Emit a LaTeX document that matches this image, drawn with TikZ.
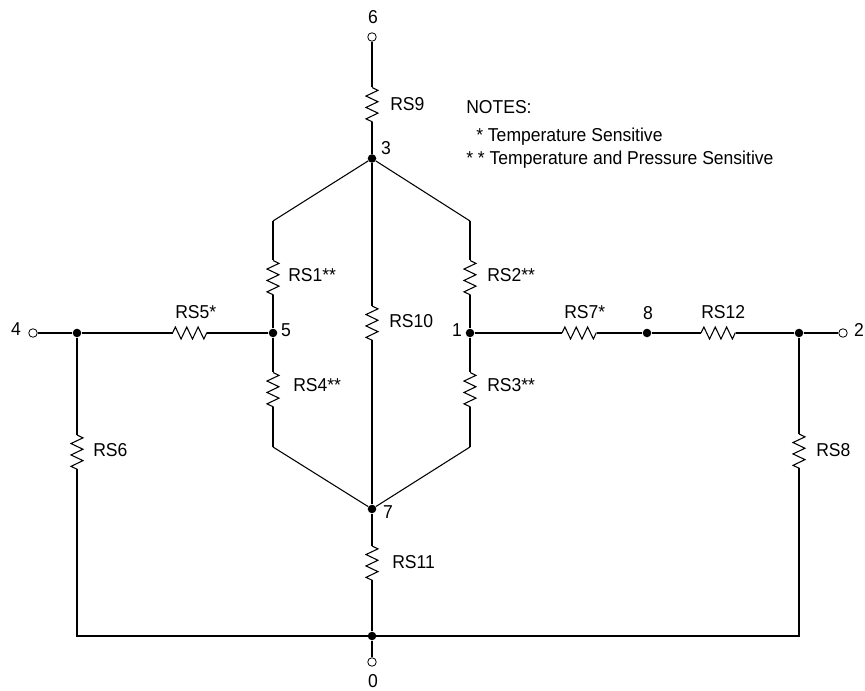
\documentclass[tikz,border=0pt]{standalone}
\usepackage{fontspec}
\setmainfont{Liberation Sans}[FakeStretch=0.94]
\usetikzlibrary{decorations.pathmorphing}
\tikzset{
	wire/.style={line width=1.4pt},
	thin wire/.style={line width=0.8pt},
	zig/.style={line width=0.8pt,decorate,decoration={zigzag,segment length=8.55pt,amplitude=4.5pt}},
	dot/.style={circle,fill=black,draw=none,minimum size=6.4pt,inner sep=0pt},
	term/.style={circle,fill=white,draw=black,line width=0.6pt,minimum size=6.4pt,inner sep=0pt},
	lbl/.style={inner sep=0pt,font=\fontsize{14pt}{16pt}\selectfont},
	rlbl/.style={lbl,anchor=west},
	note/.style={lbl,anchor=base west}
}
\begin{document}
\begin{tikzpicture}[x=0.75pt,y=0.75pt,yscale=-1,xscale=1]
	\useasboundingbox (0,0) rectangle (865,691);

	% Junctions
	\node[dot] (n3) at (372,158.5) {};
	\node[dot] (n5) at (273,333) {};
	\node[dot] (n1) at (470,333) {};
	\node[dot] (n7) at (372,509) {};
	\node[dot] (n8) at (647,333) {};
	\node[dot] (nl) at (77,333) {};
	\node[dot] (nr) at (799,333) {};
	\node[dot] (n0) at (372,636) {};
	% Terminals
	\node[term] (t6) at (372,37) {};
	\node[term] (t4) at (33,333) {};
	\node[term] (t2) at (843,333) {};
	\node[term] (t0) at (372,662) {};
	% Corners
	\coordinate (ul) at (273,221);
	\coordinate (ur) at (470,221);
	\coordinate (ll) at (273,447);
	\coordinate (lr) at (470,447);
	\coordinate (bl) at (77,636);
	\coordinate (br) at (799,636);
	% Resistor ends
	\coordinate (r9a) at (372,87.5);
	\coordinate (r9b) at (372,122);
	\coordinate (r1a) at (273,260.5);
	\coordinate (r1b) at (273,295);
	\coordinate (r4a) at (273,372.5);
	\coordinate (r4b) at (273,407);
	\coordinate (r2a) at (470,260.5);
	\coordinate (r2b) at (470,295);
	\coordinate (r3a) at (470,372.5);
	\coordinate (r3b) at (470,407);
	\coordinate (r10a) at (372,306);
	\coordinate (r10b) at (372,340.5);
	\coordinate (r6a) at (77,435);
	\coordinate (r6b) at (77,469.5);
	\coordinate (r8a) at (799,434);
	\coordinate (r8b) at (799,468.5);
	\coordinate (r11a) at (372,546);
	\coordinate (r11b) at (372,580.5);
	\coordinate (r5a) at (172.5,333);
	\coordinate (r5b) at (207,333);
	\coordinate (r7a) at (562,333);
	\coordinate (r7b) at (596.5,333);
	\coordinate (r12a) at (701,333);
	\coordinate (r12b) at (735.5,333);

	% Wires
	\draw[wire] (t6) -- (r9a) (r9b) -- (n3);
	\draw[wire] (n3) -- (r10a) (r10b) -- (n7);
	\draw[wire] (n7) -- (r11a) (r11b) -- (n0);
	\draw[wire] (n0) -- (t0);
	\draw[thin wire] (n3) -- (ul) (n3) -- (ur);
	\draw[thin wire] (n7) -- (ll) (n7) -- (lr);
	\draw[wire] (ul) -- (r1a) (r1b) -- (n5) -- (r4a) (r4b) -- (ll);
	\draw[wire] (ur) -- (r2a) (r2b) -- (n1) -- (r3a) (r3b) -- (lr);
	\draw[wire] (t4) -- (nl) -- (r5a) (r5b) -- (n5);
	\draw[wire] (n1) -- (r7a) (r7b) -- (n8) -- (r12a) (r12b) -- (nr) -- (t2);
	\draw[wire] (nl) -- (r6a) (r6b) -- (bl) -- (br) -- (r8b) (r8a) -- (nr);

	% Resistors
	\foreach \ra/\rb in {r9a/r9b,r1a/r1b,r4a/r4b,r2a/r2b,r3a/r3b,r10a/r10b,r6a/r6b,r8a/r8b,r11a/r11b,r5a/r5b,r7a/r7b,r12a/r12b}
		\draw[zig] (\ra) -- (\rb);

	% Labels
	\node[lbl] (l6) at (373,17) {6};
	\node[lbl] (l3) at (386,148) {3};
	\node[lbl] (l5) at (286,330) {5};
	\node[lbl] (l1) at (457,330) {1};
	\node[lbl] (l7) at (388,512) {7};
	\node[lbl] (l8) at (648,313) {8};
	\node[lbl] (l4) at (16,329) {4};
	\node[lbl] (l2) at (859,330) {2};
	\node[lbl] (l0) at (373,681) {0};
	\node[rlbl] (ln9) at (390,104) {RS9};
	\node[rlbl] (ln1) at (288,275) {RS1**};
	\node[rlbl] (ln2) at (487,275) {RS2**};
	\node[rlbl] (ln4) at (293,385) {RS4**};
	\node[rlbl] (ln3) at (487,385) {RS3**};
	\node[rlbl] (ln10) at (389,321) {RS10};
	\node[rlbl] (ln5) at (175,312) {RS5*};
	\node[rlbl] (ln7) at (564,312) {RS7*};
	\node[rlbl] (ln12) at (701,312) {RS12};
	\node[rlbl] (ln6) at (93,450) {RS6};
	\node[rlbl] (ln8) at (816,450) {RS8};
	\node[rlbl] (ln11) at (392,562) {RS11};
	% Notes
	\node[note] (nt1) at (466,114) {NOTES:};
	\node[note] (nt2) at (476,142) {* Temperature Sensitive};
	\node[note] (nt3) at (466,165) {* * Temperature and Pressure Sensitive};
\end{tikzpicture}
\end{document}
